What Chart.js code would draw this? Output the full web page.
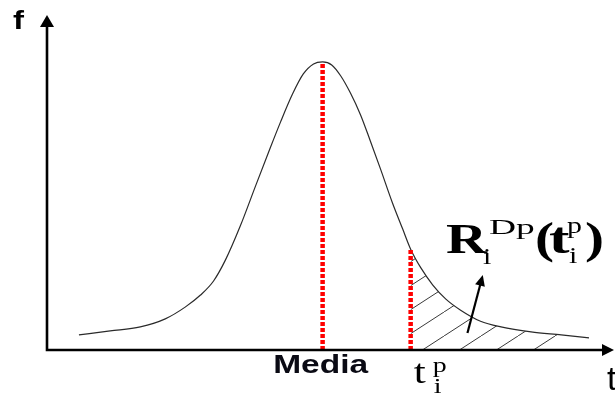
<!DOCTYPE html>
<html>
<head>
<meta charset="utf-8">
<script src="https://cdn.jsdelivr.net/npm/chart.js@4/dist/chart.umd.min.js"></script>
<style>
  html, body { margin: 0; padding: 0; background: #ffffff; }
  #wrap { width: 615px; height: 394px; }
</style>
</head>
<body>
<div id="wrap"><canvas id="c" width="615" height="394"></canvas></div>
<script>
// Density curve f(t): sampled points of the distribution
const tValues = [0.58, 1.13, 1.66, 2.10, 2.45, 2.72, 2.95, 3.16, 3.42, 3.69, 3.92, 4.13, 4.34, 4.53, 4.71,
                 4.87, 5.03, 5.19, 5.36, 5.54, 5.71, 5.89, 6.10, 6.28, 6.42, 6.60, 6.81, 7.04, 7.30, 7.65,
                 8.01, 8.54, 9.07, 9.56];
const fValues = [0.045, 0.057, 0.069, 0.093, 0.128, 0.164, 0.206, 0.269, 0.370, 0.490, 0.591, 0.681, 0.764, 0.824, 0.854,
                 0.860, 0.851, 0.818, 0.767, 0.701, 0.624, 0.540, 0.439, 0.361, 0.301, 0.245, 0.194, 0.152, 0.119, 0.086,
                 0.069, 0.054, 0.045, 0.036];

// Median and the threshold t_i^p
const mediaT = 4.87;
const mediaF = 0.860;
const tipT = 6.42;
const tipF = 0.301;
// Upper end of the shaded tail region
const tailEndT = 9.07;

// Pointer from the shaded tail to its label: [t, f] start and end
const pointerFrom = [7.42, 0.051];
const pointerTo = [7.69, 0.224];

// Axis extents
const tMax = 10;
const fMax = 1;

const curvePts = tValues.map((t, i) => ({ x: t, y: fValues[i] }));
const tailPts = curvePts.filter(p => p.x >= tipT && p.x <= tailEndT);

// Diagonal hatch pattern for the tail area
function hatchPattern() {
  const w = 37, h = 24;
  const c = document.createElement('canvas');
  c.width = w; c.height = h;
  const g = c.getContext('2d');
  g.strokeStyle = '#3a3a3a';
  g.lineWidth = 1;
  for (const dx of [-w, 0, w]) {
    g.beginPath();
    g.moveTo(dx, h);
    g.lineTo(dx + w, 0);
    g.stroke();
  }
  return g.createPattern(c, 'repeat');
}

function drawText(ctx, s, x, y, font, sx) {
  ctx.save();
  ctx.font = font;
  ctx.translate(x, y);
  ctx.scale(sx, 1);
  ctx.fillText(s, 0, 0);
  ctx.restore();
}

const decorations = {
  id: 'decorations',
  afterDatasetsDraw(chart) {
    const ctx = chart.ctx;
    const a = chart.chartArea;
    const xs = chart.scales.x, ys = chart.scales.y;
    ctx.save();
    // axes with arrow heads
    ctx.strokeStyle = '#000';
    ctx.fillStyle = '#000';
    ctx.lineWidth = 2.6;
    ctx.beginPath();
    ctx.moveTo(a.left + 1, a.top + 8);
    ctx.lineTo(a.left + 1, a.bottom);
    ctx.lineTo(a.right - 8, a.bottom);
    ctx.stroke();
    ctx.beginPath();
    ctx.moveTo(a.left + 1, a.top);
    ctx.lineTo(a.left - 6, a.top + 12);
    ctx.lineTo(a.left + 8, a.top + 12);
    ctx.closePath();
    ctx.fill();
    ctx.beginPath();
    ctx.moveTo(a.right, a.bottom);
    ctx.lineTo(a.right - 12, a.bottom - 6);
    ctx.lineTo(a.right - 12, a.bottom + 6);
    ctx.closePath();
    ctx.fill();

    // pointer arrow
    const x0 = xs.getPixelForValue(pointerFrom[0]), y0 = ys.getPixelForValue(pointerFrom[1]);
    const x1 = xs.getPixelForValue(pointerTo[0]), y1 = ys.getPixelForValue(pointerTo[1]);
    const ang = Math.atan2(y1 - y0, x1 - x0);
    ctx.lineWidth = 2.2;
    ctx.beginPath();
    ctx.moveTo(x0, y0);
    ctx.lineTo(x1 - 8 * Math.cos(ang), y1 - 8 * Math.sin(ang));
    ctx.stroke();
    ctx.beginPath();
    ctx.moveTo(x1, y1);
    ctx.lineTo(x1 - 11 * Math.cos(ang) + 5 * Math.sin(ang), y1 - 11 * Math.sin(ang) - 5 * Math.cos(ang));
    ctx.lineTo(x1 - 11 * Math.cos(ang) - 5 * Math.sin(ang), y1 - 11 * Math.sin(ang) + 5 * Math.cos(ang));
    ctx.closePath();
    ctx.fill();

    // labels
    ctx.fillStyle = '#000';
    ctx.textBaseline = 'alphabetic';
    ctx.textAlign = 'left';
    const sans = '"Liberation Sans", Arial, sans-serif';
    const serif = '"Liberation Serif", "Times New Roman", serif';

    drawText(ctx, 'f', 13, 29, 'bold 26px ' + sans, 1.27);

    // "Media" centred under the median
    ctx.font = 'bold 25px ' + sans;
    const mw = ctx.measureText('Media').width * 1.34;
    ctx.fillStyle = '#0a0a14';
    drawText(ctx, 'Media', xs.getPixelForValue(mediaT) - mw / 2 - 2, 373, 'bold 25px ' + sans, 1.34);
    ctx.fillStyle = '#000';

    // t_i^p under the threshold
    const tx = xs.getPixelForValue(tipT);
    drawText(ctx, 't', tx + 3, 383, '34px ' + serif, 1.27);
    drawText(ctx, 'p', tx + 22, 372, '22px ' + serif, 1.27);
    drawText(ctx, 'i', tx + 23, 393, '22px ' + serif, 1.27);

    // axis name
    drawText(ctx, 't', a.right - 7, 390, '34px ' + sans, 1.0);

    // tail probability label R_i^Dp(t_i^p)
    drawText(ctx, 'R', 446, 253, 'bold 42px ' + serif, 1.35);
    drawText(ctx, 'i', 483, 264, '23px ' + serif, 1.3);
    drawText(ctx, 'Dp', 489, 234, '22px ' + serif, 1.7);
    drawText(ctx, '(', 535, 253, 'bold 44px ' + serif, 1.3);
    drawText(ctx, 't', 549, 253, 'bold 44px ' + serif, 1.4);
    drawText(ctx, 'p', 567, 233, '23px ' + serif, 1.3);
    drawText(ctx, 'i', 569, 263, '23px ' + serif, 1.3);
    drawText(ctx, ')', 585, 253, 'bold 44px ' + serif, 1.3);
    ctx.restore();
  }
};

new Chart(document.getElementById('c'), {
  type: 'line',
  data: {
    datasets: [
      {
        data: [{ x: mediaT, y: 0 }, { x: mediaT, y: mediaF }],
        borderColor: '#ff0000', borderWidth: 4.5, borderDash: [4, 2],
        pointRadius: 0, fill: false, tension: 0
      },
      {
        data: [{ x: tipT, y: 0 }, { x: tipT, y: tipF }],
        borderColor: '#ff0000', borderWidth: 4.5, borderDash: [4, 2],
        pointRadius: 0, fill: false, tension: 0
      },
      {
        data: curvePts,
        borderColor: '#2a2a2a', borderWidth: 1.2,
        pointRadius: 0, fill: false, cubicInterpolationMode: 'monotone'
      },
      {
        data: tailPts,
        borderWidth: 0, borderColor: 'rgba(0,0,0,0)',
        backgroundColor: hatchPattern(),
        pointRadius: 0, fill: 'origin', cubicInterpolationMode: 'monotone'
      }
    ]
  },
  options: {
    responsive: false,
    animation: false,
    layout: { padding: { left: 46, right: 1, top: 15, bottom: 44 } },
    plugins: { legend: { display: false }, tooltip: { enabled: false } },
    scales: {
      x: { type: 'linear', min: 0, max: tMax, display: false },
      y: { type: 'linear', min: 0, max: fMax, display: false }
    }
  },
  plugins: [decorations]
});
</script>
</body>
</html>
